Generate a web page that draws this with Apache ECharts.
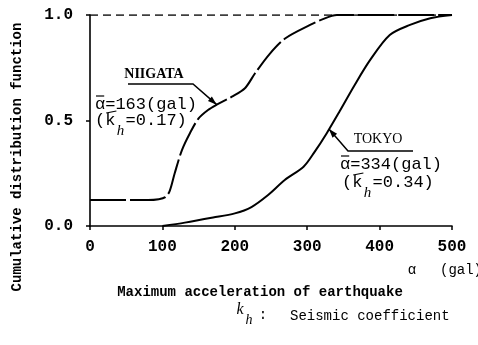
<!DOCTYPE html>
<html>
<head>
<meta charset="utf-8">
<script src="https://cdn.jsdelivr.net/npm/echarts@6/dist/echarts.min.js"></script>
<style>
  html, body { margin: 0; padding: 0; background: #fff; }
  #main { width: 478px; height: 345px; }
</style>
</head>
<body>
<div id="main"></div>
<script>
// cumulative distribution of max acceleration - NIIGATA / TOKYO
const xTicks = [0, 100, 200, 300, 400, 500]
const yTicks = [0.0, 0.5, 1.0]

const niigataX = [0, 80, 95, 104, 110, 117, 127, 138, 150, 163, 175, 196, 214, 228, 248, 270, 304, 320, 341, 500]
const niigataY = [0.123, 0.123, 0.127, 0.137, 0.165, 0.25, 0.36, 0.44, 0.51, 0.55, 0.575, 0.613, 0.653, 0.724, 0.815, 0.89, 0.953, 0.978, 1.0, 1.0]

const tokyoX = [100, 131, 170, 200, 223, 246, 269, 295, 310, 327, 345, 365, 387, 414, 442, 470, 500]
const tokyoY = [0, 0.016, 0.04, 0.06, 0.09, 0.147, 0.218, 0.281, 0.35, 0.44, 0.545, 0.665, 0.787, 0.905, 0.953, 0.985, 1.0]

const upperX = [0, 500]
const upperY = [1, 1]

const zip = (xs, ys) => xs.map((x, i) => [x, ys[i]])

const mono = '"Liberation Mono", "DejaVu Sans Mono", monospace'
const serif = '"Liberation Serif", "DejaVu Serif", serif'

const chart = echarts.init(document.getElementById('main'))

const option = {
  animation: false,
  grid: { left: 90, right: 26, top: 15, bottom: 119 },
  xAxis: {
    type: 'value',
    min: 0,
    max: 500,
    interval: 100,
    axisLine: { lineStyle: { color: '#000', width: 1.6 } },
    axisTick: { show: true, length: 4, lineStyle: { color: '#000', width: 1.5 } },
    axisLabel: {
      color: '#000',
      fontFamily: mono,
      fontSize: 16,
      fontWeight: 'bold',
      margin: 13,
    },
    splitLine: { show: false },
  },
  yAxis: {
    type: 'value',
    min: 0,
    max: 1,
    interval: 0.5,
    axisLine: { show: true, lineStyle: { color: '#000', width: 1.6 } },
    axisTick: { show: true, length: 4, lineStyle: { color: '#000', width: 1.5 } },
    axisLabel: {
      color: '#000',
      fontFamily: mono,
      fontSize: 16,
      fontWeight: 'bold',
      margin: 17,
      formatter: (v) => v.toFixed(1),
    },
    splitLine: { show: false },
  },
  series: [
    {
      // 上の破線 (1.0)
      type: 'line',
      data: zip(upperX, upperY),
      symbol: 'none',
      silent: true,
      lineStyle: { color: '#000', width: 1.6, type: [8, 5] },
    },
    {
      name: 'NIIGATA',
      type: 'line',
      data: zip(niigataX, niigataY),
      symbol: 'none',
      smooth: 0.3,
      silent: true,
      lineStyle: { color: '#000', width: 2, type: [36, 4] },
    },
    {
      name: 'TOKYO',
      type: 'line',
      data: zip(tokyoX, tokyoY),
      symbol: 'none',
      smooth: 0.3,
      silent: true,
      lineStyle: { color: '#000', width: 2 },
    },
  ],
}

chart.setOption(option)

// annotations
function txt(x, y, text, font, align, extra) {
  return Object.assign({
    type: 'text',
    x: x,
    y: y,
    silent: true,
    style: { text: text, font: font, fill: '#000', align: align || 'left', verticalAlign: 'middle' },
  }, extra || {})
}
function seg(points, w) {
  return {
    type: 'polyline',
    silent: true,
    shape: { points: points },
    style: { stroke: '#000', lineWidth: w || 1.5, fill: null },
  }
}
function arrowHead(from, tip, len, half) {
  const dx = tip[0] - from[0], dy = tip[1] - from[1]
  const d = Math.sqrt(dx * dx + dy * dy)
  const ux = dx / d, uy = dy / d
  const bx = tip[0] - ux * len, by = tip[1] - uy * len
  return {
    type: 'polygon',
    silent: true,
    shape: { points: [tip, [bx - uy * half, by + ux * half], [bx + uy * half, by - ux * half]] },
    style: { fill: '#000' },
  }
}

const cw = 17 * 0.6
const valFont = '17px ' + mono
const nTip = chart.convertToPixel({ gridIndex: 0 }, [175, 0.575])
const tTip = chart.convertToPixel({ gridIndex: 0 }, [330, 0.46])

const g = []
// NIIGATA
g.push(txt(154, 74, 'NIIGATA', 'bold 14px ' + serif, 'center'))
g.push(seg([[128, 84], [193, 84], nTip]))
g.push(arrowHead([193, 84], nTip, 9, 3))
g.push(txt(95, 104, 'α=163(gal)', valFont))
g.push(seg([[96, 96], [95 + cw - 1, 96]], 1.2))
g.push(txt(95, 120, '(k =0.17)', valFont))
g.push(seg([[96 + cw, 113], [95 + cw * 2 + 1, 111]], 1.2))
g.push(txt(95 + cw * 2.5, 131, 'h', 'italic 15px ' + serif, 'center'))
// TOKYO
g.push(txt(378, 139, 'TOKYO', '14px ' + serif, 'center'))
g.push(seg([[413, 151], [348, 151], tTip]))
g.push(arrowHead([348, 151], tTip, 9, 3))
g.push(txt(340, 164, 'α=334(gal)', valFont))
g.push(seg([[341, 156], [340 + cw - 1, 156]], 1.2))
g.push(txt(342, 182, '(k =0.34)', valFont))
g.push(seg([[343 + cw, 175], [342 + cw * 2 + 1, 173]], 1.2))
g.push(txt(342 + cw * 2.5, 193, 'h', 'italic 15px ' + serif, 'center'))
// axis titles
g.push(txt(412, 270, 'α', '14px ' + mono, 'center'))
g.push(txt(440, 270, '(gal)', '14px ' + mono))
g.push(txt(260, 292, 'Maximum acceleration of earthquake', 'bold 14px ' + mono, 'center'))
g.push(txt(17, 157, 'Cumulative distribution function', 'bold 14px ' + mono, 'center', { rotation: Math.PI / 2 }))
// kh legend
g.push(txt(240, 310, 'k', 'italic 16px ' + serif, 'center'))
g.push(txt(249, 320, 'h', 'italic 14px ' + serif, 'center'))
g.push(txt(263, 315, ':', '14px ' + mono, 'center'))
g.push(txt(290, 316, 'Seismic coefficient', '14px ' + mono))

chart.setOption({ graphic: g })
</script>
</body>
</html>
